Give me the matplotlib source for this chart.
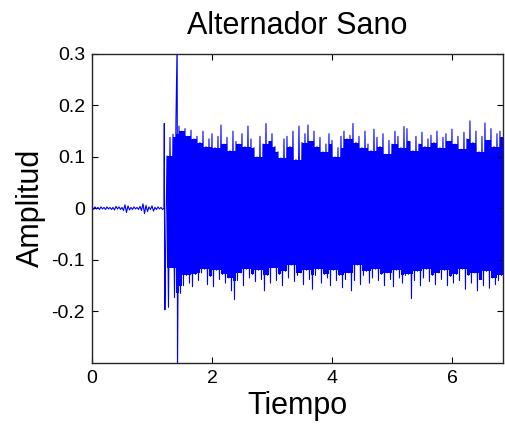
import numpy as np
import matplotlib
matplotlib.use('Agg')
import matplotlib.pyplot as plt

plt.rcParams['font.family'] = ['Liberation Sans', 'DejaVu Sans']

# quiet part before the alternator starts, one peak pair every 0.05 s from t=0
quiet_upper = [0.004, 0.003, 0.002, 0.003, 0.002, 0.003, 0.002, 0.002, 0.004, 0.003,
               0.002, 0.007, 0.005, 0.002, 0.003, 0.002, 0.004, 0.009, 0.006, 0.003,
               0.005, 0.002, 0.003, 0.002]
quiet_lower = [-0.002, -0.001, -0.002, -0.001, -0.002, -0.001, -0.002, -0.003, -0.001, -0.002,
               -0.004, -0.008, -0.003, -0.002, -0.001, -0.002, -0.004, -0.010, -0.006, -0.002,
               -0.005, -0.002, -0.001, -0.002]

# single spikes (start of record, start-up transient)
spike_t = [0.0, 1.20, 1.205, 1.21, 1.215, 1.42, 1.425]
spike_amp = [-0.075, 0.0, 0.165, -0.10, -0.197, 0.33, -0.33]

# running signal, peak pair every 0.05 s from t=1.25 to 6.85
run_start = 1.25
run_upper = [0.102, 0.138, 0.144, 0.175, 0.160, 0.150, 0.155, 0.140, 0.152, 0.135,
             0.140, 0.128, 0.150, 0.120, 0.135, 0.145, 0.118, 0.140, 0.162, 0.125,
             0.138, 0.112, 0.150, 0.130, 0.125, 0.145, 0.120, 0.160, 0.135, 0.118,
             0.100, 0.140, 0.125, 0.165, 0.130, 0.145, 0.120, 0.110, 0.098, 0.135,
             0.140, 0.120, 0.150, 0.095, 0.160, 0.128, 0.145, 0.162, 0.130, 0.150,
             0.120, 0.138, 0.110, 0.125, 0.145, 0.132, 0.100, 0.118, 0.140, 0.150,
             0.135, 0.142, 0.165, 0.128, 0.140, 0.118, 0.150, 0.125, 0.112, 0.154,
             0.138, 0.120, 0.145, 0.105, 0.132, 0.125, 0.150, 0.140, 0.118, 0.159,
             0.155, 0.130, 0.112, 0.140, 0.125, 0.148, 0.120, 0.135, 0.142, 0.128,
             0.150, 0.118, 0.138, 0.145, 0.130, 0.154, 0.125, 0.140, 0.115, 0.148,
             0.135, 0.170, 0.128, 0.150, 0.110, 0.140, 0.166, 0.132, 0.155, 0.120,
             0.145, 0.150, 0.138]
run_lower = [-0.192, -0.115, -0.173, -0.237, -0.165, -0.150, -0.130, -0.145, -0.152, -0.128,
             -0.140, -0.125, -0.118, -0.148, -0.132, -0.152, -0.120, -0.138, -0.128, -0.145,
             -0.135, -0.160, -0.177, -0.140, -0.125, -0.150, -0.118, -0.135, -0.128, -0.142,
             -0.120, -0.138, -0.160, -0.130, -0.145, -0.115, -0.140, -0.128, -0.150, -0.122,
             -0.135, -0.110, -0.142, -0.130, -0.125, -0.148, -0.120, -0.138, -0.157, -0.130,
             -0.118, -0.145, -0.128, -0.135, -0.150, -0.120, -0.140, -0.130, -0.154, -0.138,
             -0.125, -0.160, -0.140, -0.110, -0.148, -0.130, -0.122, -0.145, -0.135, -0.118,
             -0.140, -0.128, -0.150, -0.125, -0.138, -0.152, -0.120, -0.135, -0.145, -0.130,
             -0.128, -0.175, -0.140, -0.122, -0.150, -0.135, -0.118, -0.142, -0.130, -0.148,
             -0.125, -0.138, -0.120, -0.150, -0.132, -0.145, -0.128, -0.140, -0.118, -0.157,
             -0.130, -0.145, -0.125, -0.160, -0.138, -0.150, -0.122, -0.155, -0.135, -0.148,
             -0.140, -0.130, -0.145]

step = 0.05


def zigzag(start, upper, lower):
    # each peak pair -> up at t, down half a step later
    t0 = start + step * np.arange(len(upper))
    t = np.column_stack([t0, t0 + step / 2]).ravel()
    y = np.column_stack([upper, lower]).ravel()
    return t, y


tq, yq = zigzag(0.0, quiet_upper, quiet_lower)
tr, yr = zigzag(run_start, run_upper, run_lower)
t = np.concatenate([spike_t, tq, tr])
y = np.concatenate([spike_amp, yq, yr])
order = np.argsort(t, kind='stable')

# solid core of the running signal: up to the lowest of three neighbouring peaks
up = np.array(run_upper)
lo = np.array(run_lower)
t_core = run_start + step * np.arange(len(up))
core_hi = np.minimum.reduce([up, np.roll(up, -1), np.roll(up, 1)])
core_lo = np.maximum.reduce([lo, np.roll(lo, -1), np.roll(lo, 1)])

fig = plt.figure(figsize=(5.06, 4.24), dpi=100)
ax = fig.add_axes([0.1818, 0.1446, 0.8122, 0.7282])
ax.fill_between(t_core, core_lo, core_hi, color='#0000ff', lw=0, step='post')
ax.plot(t[order], y[order], color='#0000ff', lw=0.8)

ax.set_xlim(0, 6.85)
ax.set_ylim(-0.2995, 0.3)
ax.set_xticks([0, 2, 4, 6])
ax.set_yticks([-0.2, -0.1, 0, 0.1, 0.2, 0.3])
ax.set_yticklabels(['-0.2', '-0.1', '0', '0.1', '0.2', '0.3'])
ax.tick_params(direction='in', length=4, width=0.8, labelsize=14, top=True, right=True, pad=5)
for s in ax.spines.values():
    s.set_linewidth(1.0)
    s.set_color('#262626')

ax.set_title('Alternador Sano', fontsize=22, pad=14)
ax.set_xlabel('Tiempo', fontsize=22, labelpad=3)
ax.set_ylabel('Amplitud', fontsize=22, labelpad=4)

fig.savefig('out.png', dpi=100)
